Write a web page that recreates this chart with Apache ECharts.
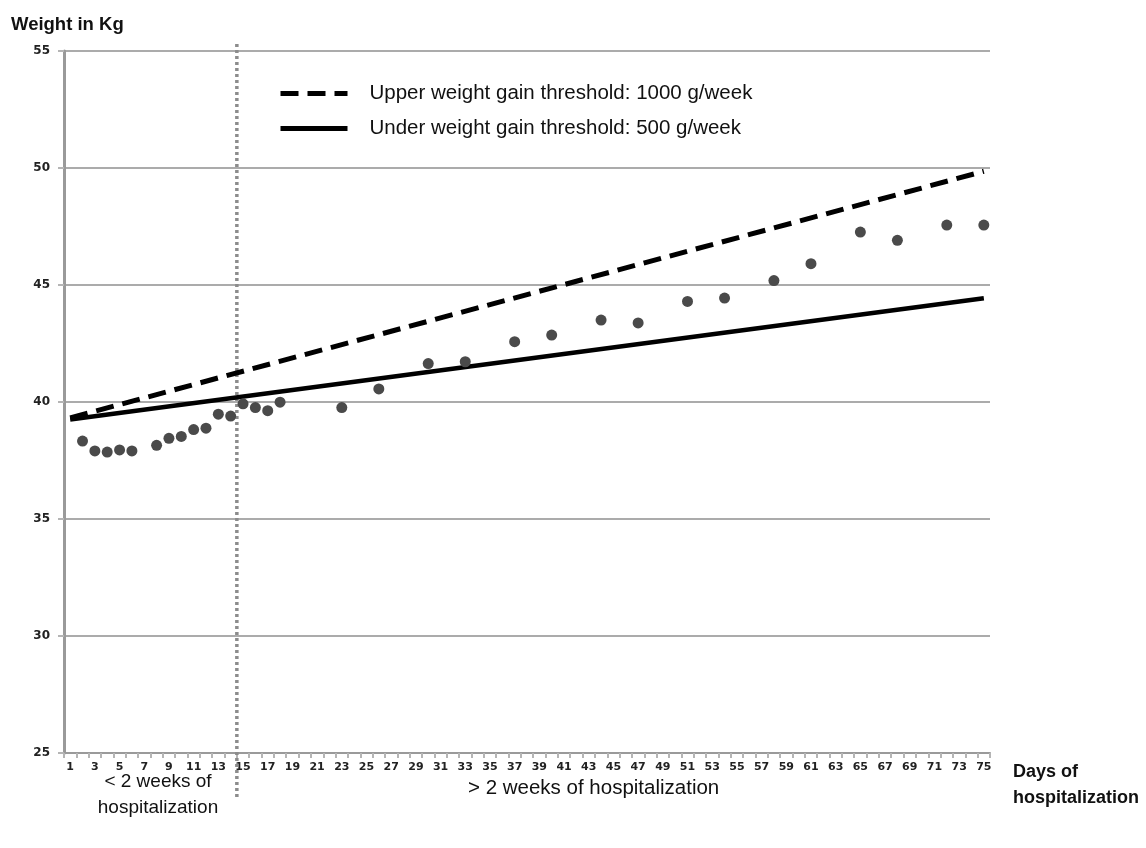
<!DOCTYPE html>
<html>
<head>
<meta charset="utf-8">
<script src="https://cdn.jsdelivr.net/npm/echarts@6/dist/echarts.min.js"></script>
<style>
html,body{margin:0;padding:0;background:#fff;}
#chart{width:1146px;height:848px;}
</style>
</head>
<body>
<div id="chart"></div>
<script>
// Categories (days of hospitalization)
var days = ['1','2','3','4','5','6','7','8','9','10','11','12','13','14','15','16','17','18','19','20',
  '21','22','23','24','25','26','27','28','29','30','31','32','33','34','35','36','37','38','39','40',
  '41','42','43','44','45','46','47','48','49','50','51','52','53','54','55','56','57','58','59','60',
  '61','62','63','64','65','66','67','68','69','70','71','72','73','74','75'];
// Observed weights
var pointDays    = ['2','3','4','5','6','8','9','10','11','12','13','14','15','16','17','18','23','26','30','33','37','40','44','47','51','54','58','61','65','68','72','75'];
var pointWeights = [38.33,37.91,37.86,37.95,37.91,38.15,38.45,38.53,38.82,38.88,39.48,39.40,39.92,39.76,39.63,39.99,39.76,40.56,41.64,41.72,42.58,42.86,43.50,43.38,44.30,44.44,45.19,45.91,47.26,46.91,47.56,47.56];
// Threshold lines (start at day 1, end at day 75)
var thresholdDays = ['1','75'];
var upperThreshold = [39.32, 49.86];
var lowerThreshold = [39.25, 44.43];
var yTicks = [25, 55, 5];
var splitDay = ['14','15'];

var chart = echarts.init(document.getElementById('chart'));
var font = 'Liberation Sans, Arial, sans-serif';
var option = {
  animation: false,
  backgroundColor: '#ffffff',
  grid: {left: 64, right: 156, top: 51, bottom: 95},
  title: {
    text: 'Weight in Kg', left: 6, top: 10,
    textStyle: {fontFamily: font, fontWeight: 'bold', fontSize: 18.5, color: '#111'}
  },
  legend: {
    left: 273, top: 78, orient: 'vertical', itemGap: 14,
    itemWidth: 67, itemHeight: 14,
    itemStyle: {opacity: 0},
    lineStyle: {width: 5},
    data: ['Upper weight gain threshold: 1000 g/week', 'Under weight gain threshold: 500 g/week'],
    textStyle: {fontFamily: font, fontSize: 20.5, color: '#111', padding: [0, 0, 0, 17]}
  },
  xAxis: {
    type: 'category', data: days, boundaryGap: true,
    axisLine: {lineStyle: {color: '#9a9a9a', width: 2}},
    axisTick: {show: true, interval: 0, length: 5, lineStyle: {color: '#b5b5b5', width: 2}},
    axisLabel: {interval: 1, margin: 9, fontFamily: 'DejaVu Sans, sans-serif', fontWeight: 'bold', fontSize: 11, color: '#222'},
    splitLine: {show: false}
  },
  yAxis: {
    type: 'value', min: yTicks[0], max: yTicks[1], interval: yTicks[2],
    axisLine: {show: true, lineStyle: {color: '#9a9a9a', width: 3}},
    axisTick: {show: true, length: 6, lineStyle: {color: '#b5b5b5', width: 2}},
    axisLabel: {margin: 14, fontFamily: 'DejaVu Sans, sans-serif', fontWeight: 'bold', fontSize: 12, color: '#222'},
    splitLine: {show: true, lineStyle: {color: '#ababab', width: 2}}
  },
  series: [
    {
      name: 'Upper weight gain threshold: 1000 g/week', type: 'line', symbol: 'none',
      data: thresholdDays.map(function (d, i) { return [d, upperThreshold[i]]; }),
      itemStyle: {color: '#000'},
      lineStyle: {color: '#000', width: 5, type: [18, 9]}, z: 3
    },
    {
      name: 'Under weight gain threshold: 500 g/week', type: 'line', symbol: 'none',
      data: thresholdDays.map(function (d, i) { return [d, lowerThreshold[i]]; }),
      itemStyle: {color: '#000'},
      lineStyle: {color: '#000', width: 4.5, type: 'solid'}, z: 3
    },
    {
      name: 'Weight', type: 'scatter', symbolSize: 11,
      data: pointDays.map(function (d, i) { return [d, pointWeights[i]]; }),
      itemStyle: {color: '#4a4a4a', opacity: 1}, z: 4
    }
  ]
};
chart.setOption(option);

var xa = chart.convertToPixel({xAxisIndex: 0}, splitDay[0]);
var xb = chart.convertToPixel({xAxisIndex: 0}, splitDay[1]);
var xs = (xa + xb) / 2;
chart.setOption({
  graphic: [
    {type: 'line', shape: {x1: xs, y1: 44, x2: xs, y2: 800}, style: {stroke: '#8c8c8c', lineWidth: 3.5, lineDash: [3, 3]}, z: 2},
    {type: 'text', left: 1013, top: 759, style: {text: 'Days of\nhospitalization', font: 'bold 18px ' + font, lineHeight: 26, fill: '#111'}},
    {type: 'text', x: 158, y: 769, style: {text: '< 2 weeks of\nhospitalization', font: '19px ' + font, lineHeight: 26, fill: '#111', textAlign: 'center'}},
    {type: 'text', left: 468, top: 778, style: {text: '> 2 weeks of hospitalization', font: '20.5px ' + font, fill: '#111'}}
  ]
});
</script>
</body>
</html>
